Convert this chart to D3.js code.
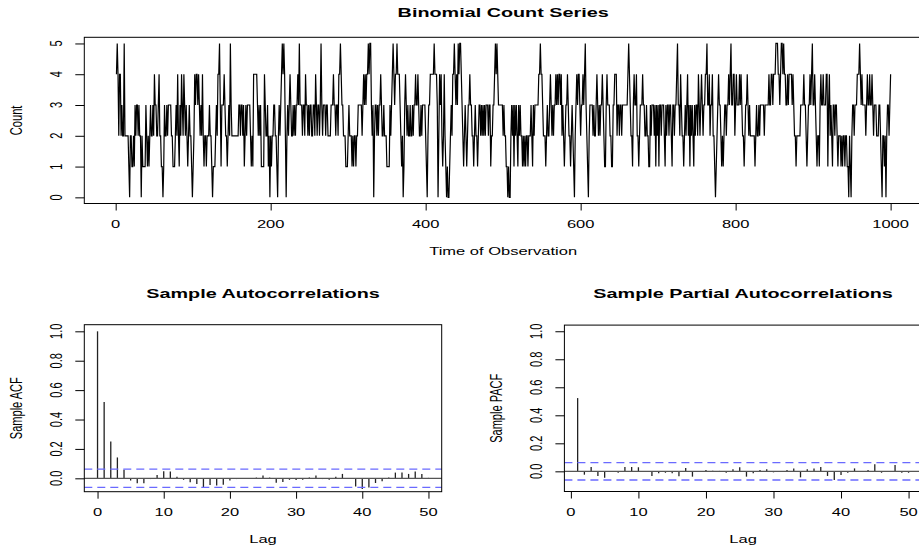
<!DOCTYPE html>
<html><head><meta charset="utf-8">
<script src="https://cdn.jsdelivr.net/npm/d3@7"></script>
<style>
html,body{margin:0;padding:0;background:#fff;overflow:hidden}
svg{display:block}
text{font-family:"Liberation Sans", Arial, Helvetica, sans-serif;fill:#000}
</style></head><body>
<svg id="chart" width="919" height="549"></svg>
<script>
// ---- data ----
const countRows = [
  "4542442322 5222221022 1121323323 2202111132 1212322324",
  "3322342211 0132232333 3221112324 2132432432 3212322101",
  "2434434323 2421221222 3221011123 2445313334 3221232532",
  "2222222233 2332312323 3332121444 4432323111 1432231202",
  "1223322102 3234545420 2323432232 3233435333 2332433232",
  "3322332432 3323532333 2332222333 4332332445 4332221112",
  "3222121221 2233333234 3434454553 2302332323 3432232221",
  "1113234543 4454443212 0134323223 2232334334 3223233332",
  "1023344444 5444302434 2124210100 1232445434 3545543212",
  "3212334332 2123221233 2323232333 2331223345 4543333332",
  "3221101002 3231323213 2322121212 2122232132 3333344544",
  "3222123223 4323233434 3443423212 3343221232 1023434432",
  "3343453210 2333323223 4323233432 1134333221 1334442332",
  "3323333333 4543221343 3422123334 3322322113 2333231323",
  "1332333213 2332332133 2334533243 2212323423 1323213233",
  "2432343233 4453342334 2210123433 2121233233 4345334423",
  "4333434322 1233432322 2222123223 2333332333 3343344344",
  "4555443455 4544334344 4434322122 2223333433 2123343453",
  "3432122134 3343334413 4232133233 2122212122 1221102102",
  "3323334445 4343333234 3343343233 3222332102 2120233234"
];
const counts = countRows.join("").replace(/\s/g, "").split("").map(Number);
const timeIndex = counts.map((d, i) => i + 1);

const acfLags = d3.range(0, 51);
const acfValues = [1.000, 0.520, 0.251, 0.142, 0.059, -0.015, -0.034, -0.034, -0.005, 0.023,
  0.048, 0.046, 0.011, -0.010, -0.027, -0.039, -0.064, -0.046, -0.048, -0.043,
  -0.015, -0.005, -0.003, -0.005, 0.005, 0.020, 0.005, -0.030, -0.025, -0.010,
  -0.012, -0.010, 0.005, 0.020, -0.005, -0.010, 0.010, 0.030, 0.000, -0.055,
  -0.073, -0.062, -0.032, -0.020, 0.005, 0.039, 0.039, 0.030, 0.046, 0.030, 0.003];

const pacfLags = d3.range(1, 51);
const pacfValues = [0.523, -0.024, 0.031, -0.033, -0.045, -0.005, -0.010, 0.031, 0.031, 0.029,
  -0.005, -0.033, -0.014, -0.010, -0.014, -0.036, 0.024, -0.038, -0.005, 0.010,
  0.005, 0.003, -0.010, 0.014, 0.029, -0.038, -0.014, 0.010, 0.014, -0.007,
  0.003, 0.010, 0.021, -0.043, 0.014, 0.021, 0.031, -0.033, -0.062, -0.026,
  -0.010, 0.021, 0.003, 0.010, 0.050, -0.010, 0.003, 0.045, -0.010, -0.010];

const ciBound = 0.062;
const topXTicks = [0, 200, 400, 600, 800, 1000];
const topYTicks = [0, 1, 2, 3, 4, 5];
const corrYTicks = [0.0, 0.2, 0.4, 0.6, 0.8, 1.0];
const lagTicks = [0, 10, 20, 30, 40, 50];
const topTitle = "Binomial Count Series";
const topXLabel = "Time of Observation";
const topYLabel = "Count";
const acfTitle = "Sample Autocorrelations";
const acfYLabel = "Sample ACF";
const pacfTitle = "Sample Partial Autocorrelations";
const pacfYLabel = "Sample PACF";
const lagLabel = "Lag";

// ---- drawing ----
const FS = 16.5, SY = 0.67;
const svg = d3.select("#chart");

function txt(x, y, str, o = {}) {
  const g = svg.append("g")
    .attr("transform", `translate(${x},${y}) scale(1,${SY})${o.rotate ? " rotate(-90)" : ""}`);
  g.append("text").attr("x", 0).attr("y", 0)
    .attr("text-anchor", "middle")
    .attr("font-size", o.size || FS)
    .attr("font-weight", o.bold ? "bold" : "normal")
    .text(str);
}

function frame(x, y) {
  const [x0, x1] = x.range(), [y0, y1] = y.range();
  svg.append("rect").attr("x", x0).attr("y", y1)
    .attr("width", x1 - x0).attr("height", y0 - y1)
    .attr("fill", "none").attr("stroke", "#000").attr("stroke-width", 1);
}

function axes(x, y, xt, yt, xfmt, yfmt, xLabY, yLabX) {
  const [y0] = y.range(), [x0] = x.range();
  const gx = svg.append("g").attr("transform", `translate(0,${y0})`)
    .call(d3.axisBottom(x).tickValues(xt).tickSize(7).tickFormat(""));
  gx.select(".domain").remove();
  gx.selectAll(".tick line").attr("stroke", "#000");
  const gy = svg.append("g").attr("transform", `translate(${x0},0)`)
    .call(d3.axisLeft(y).tickValues(yt).tickSize(9).tickFormat(""));
  gy.select(".domain").remove();
  gy.selectAll(".tick line").attr("stroke", "#000");
  xt.forEach(v => txt(x(v), xLabY, xfmt(v)));
  yt.forEach(v => txt(yLabX, y(v), yfmt(v), {rotate: true}));
}

// Top: time series
const xTop = d3.scaleLinear().domain([-40.5, 1040.5]).range([84.3, 922]);
const yTop = d3.scaleLinear().domain([-0.2, 5.2]).range([203.5, 37.3]);
svg.append("path")
  .datum(counts)
  .attr("d", d3.line().x((d, i) => xTop(timeIndex[i])).y(d => yTop(d)))
  .attr("fill", "none").attr("stroke", "#000").attr("stroke-width", 1.2);
frame(xTop, yTop);
axes(xTop, yTop, topXTicks, topYTicks, d3.format("d"), d3.format("d"), 228, 62);
txt((84.3 + 922) / 2, 17, topTitle, {bold: true, size: FS * 1.2});
txt((84.3 + 922) / 2, 254.5, topXLabel);
txt(22, (37.3 + 203.5) / 2, topYLabel, {rotate: true});

// Correlation panels
function corrPanel(x, y, lags, vals, title, ylab) {
  const [x0, x1] = x.range();
  const [y0, y1] = y.range();
  svg.append("g").selectAll("line").data(lags).join("line")
    .attr("x1", d => x(d)).attr("x2", d => x(d))
    .attr("y1", y(0)).attr("y2", (d, i) => y(vals[i]))
    .attr("stroke", "#222").attr("stroke-width", 1.3);
  svg.append("line").attr("x1", x0).attr("x2", x1).attr("y1", y(0)).attr("y2", y(0))
    .attr("stroke", "#555").attr("stroke-width", 1.3);
  [ciBound, -ciBound].forEach(c => {
    svg.append("line").attr("x1", x0).attr("x2", x1).attr("y1", y(c)).attr("y2", y(c))
      .attr("stroke", "#6a6aff").attr("stroke-width", 1.3).attr("stroke-dasharray", "8,5");
  });
  frame(x, y);
  axes(x, y, lagTicks, corrYTicks, d3.format("d"), d3.format(".1f"), 515.5, x0 - 22);
  const cx = (x0 + x1) / 2;
  txt(cx, 298, title, {bold: true, size: FS * 1.2});
  txt(cx, 542.5, lagLabel);
  txt(x0 - 62.5, (y0 + y1) / 2, ylab, {rotate: true});
}

const xAcf = d3.scaleLinear().domain([-2, 52]).range([84.3, 441.7]);
const yAcf = d3.scaleLinear().domain([-0.091, 1.045]).range([491.7, 324.7]);
corrPanel(xAcf, yAcf, acfLags, acfValues, acfTitle, acfYLabel);

const xPacf = d3.scaleLinear().domain([-0.96, 51.96]).range([564.4, 921.8]);
const yPacf = d3.scaleLinear().domain([-0.144, 1.044]).range([491.5, 325.1]);
corrPanel(xPacf, yPacf, pacfLags, pacfValues, pacfTitle, pacfYLabel);
</script>
</body></html>
